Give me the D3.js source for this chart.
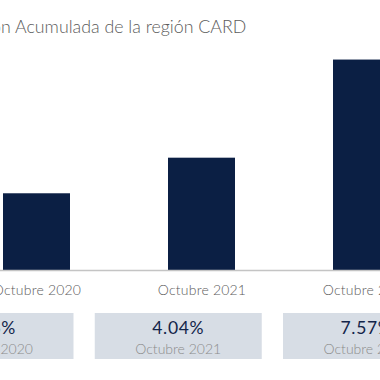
<!DOCTYPE html>
<html>
<head>
<meta charset="utf-8">
<script src="https://cdn.jsdelivr.net/npm/d3@7"></script>
<style>
body{margin:0;background:#fff;}
svg{display:block;font-family:Lato, "Open Sans", sans-serif;}
</style>
</head>
<body>
<svg id="chart" width="380" height="380"></svg>
<script>
var titleText = "Inflación Acumulada de la región CARD";
var titleCut = "Inflació";   // part of the title that falls off the left edge
var categories = ["Octubre 2020", "Octubre 2021", "Octubre 2022"];
var values = [2.76, 4.04, 7.57];
var valueLabels = ["2.76%", "4.04%", "7.57%"];

var W = 380, H = 380;
var barColor = "#0b1f44";
var boxColor = "#d7dde5";

var svg = d3.select("#chart");

// title, shifted so that only "n Acumulada..." shows
var t = svg.append("text")
    .attr("y", 33)
    .attr("font-size", 17.8)
    .attr("fill", "#5c5c5c")
    .attr("font-weight", 300)
    .text(titleCut);
var cutW = t.node().getComputedTextLength();
t.text(titleText).attr("x", -cutW + 1);

var x = d3.scalePoint()
    .domain(categories)
    .range([36.5, 366.5]);
var barW = 67;

var y = d3.scaleLinear()
    .domain([0, 8])
    .range([270, 270 - 8 * 27.8]);

svg.selectAll(".bar")
  .data(values)
  .enter().append("rect")
    .attr("class", "bar")
    .attr("x", function(d, i) { return x(categories[i]) - barW / 2; })
    .attr("y", function(d) { return y(d); })
    .attr("width", barW)
    .attr("height", function(d) { return y(0) - y(d); })
    .attr("fill", barColor);

// category axis
var xAxis = svg.append("g")
    .attr("transform", "translate(0," + y(0) + ")")
    .call(d3.axisBottom(x).tickSize(0).tickPadding(15));
xAxis.select(".domain").attr("d", "M0,0.5H" + W).attr("stroke", "#c4c4c4").attr("stroke-width", 1.5);
xAxis.selectAll("text")
    .attr("font-family", "Lato, 'Open Sans', sans-serif")
    .attr("font-size", 14)
    .attr("font-weight", 300)
    .attr("fill", "#5c5c5c")
    .attr("letter-spacing", 0.2);

// summary boxes
var bx = d3.scalePoint()
    .domain(categories)
    .range([-10, 366.5]);
var boxW = 167, boxTop = 313, boxH = 46;

var boxes = svg.selectAll(".box")
  .data(categories)
  .enter().append("g")
    .attr("class", "box")
    .attr("transform", function(d) { return "translate(" + bx(d) + ",0)"; });

boxes.append("rect")
    .attr("x", -boxW / 2)
    .attr("y", boxTop)
    .attr("width", boxW)
    .attr("height", boxH)
    .attr("fill", boxColor);

boxes.append("text")
    .attr("text-anchor", "middle")
    .attr("y", 333.5)
    .attr("font-size", 17.5)
    .attr("fill", "#13254a")
    .attr("letter-spacing", 0.7)
    .text(function(d, i) { return valueLabels[i]; });

boxes.append("text")
    .attr("text-anchor", "middle")
    .attr("y", 353.5)
    .attr("font-size", 14)
    .attr("font-weight", 300)
    .attr("fill", "#8c8c8c")
    .text(function(d) { return d; });
</script>
</body>
</html>
